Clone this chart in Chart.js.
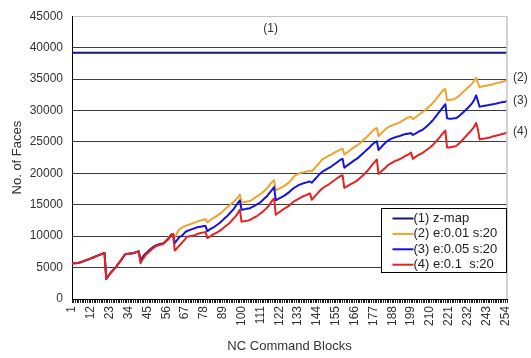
<!DOCTYPE html>
<html>
<head>
<meta charset="utf-8">
<title>No. of Faces per NC Command Block</title>
<script src="https://cdn.jsdelivr.net/npm/chart.js@4.4.1/dist/chart.umd.min.js"></script>
<style>
  html, body { margin: 0; padding: 0; background: #ffffff; }
  #wrap { position: relative; width: 531px; height: 358px; }
</style>
</head>
<body>
<div id="wrap"><canvas id="chart" width="531" height="358"></canvas></div>
<script>
// NC command blocks 1..255 on the x axis
const blockCount = 255;
const blocks = Array.from({ length: blockCount }, (_, i) => String(i + 1));

// Labels printed under the x axis (every 11th block)
const tickLabels = ['1', '12', '23', '34', '45', '56', '67', '78', '89', '100', '111', '122',
  '133', '144', '155', '166', '177', '188', '199', '210', '221', '232', '243', '254'];

// Y axis range
const yMin = 0;
const yMax = 45000;
const yStep = 5000;

// Series names (legend) and end tags
const seriesNames = ['(1) z-map', '(2) e:0.01 s:20', '(3) e:0.05 s:20', '(4) e:0.1  s:20'];
const endTags = ['(1)', '(2)', '(3)', '(4)'];

// (1) z-map: constant face count
const zmapFaces = 39200;

// (2) e:0.01 s:20
const facesE001 = [
  5700, 5700, 5700, 5720, 5750, 5850, 5950, 6050, 6150, 6250,
  6350, 6460, 6570, 6680, 6790, 6900, 7010, 7120, 7230, 7300,
  3200, 3600, 3950, 4300, 4600, 4900, 5200, 5600, 5950, 6300,
  6750, 7100, 7150, 7200, 7250, 7250, 7300, 7400, 7500, 7600,
  6200, 6700, 7050, 7300, 7550, 7800, 8050, 8250, 8450, 8600,
  8700, 8800, 8850, 8900, 9100, 9350, 9600, 9950, 10300, 10400,
  9800, 10300, 10800, 11200, 11300, 11500, 11600, 11700, 11800, 11900,
  12000, 12100, 12200, 12300, 12400, 12500, 12550, 12650, 12700, 12200,
  12400, 12600, 12800, 12950, 13100, 13300, 13500, 13700, 13950, 14200,
  14450, 14700, 14900, 15150, 15400, 15600, 15900, 16250, 16600, 15400,
  15400, 15450, 15500, 15550, 15600, 15750, 15950, 16150, 16350, 16500,
  16700, 16900, 17150, 17400, 17650, 18000, 18350, 18650, 18900, 17300,
  17400, 17550, 17700, 17850, 18000, 18200, 18400, 18600, 18950, 19300,
  19600, 19750, 19900, 20000, 20100, 20150, 20200, 20300, 20350, 20400,
  20300, 20600, 20900, 21200, 21500, 21850, 22200, 22350, 22500, 22650,
  22800, 22950, 23100, 23250, 23400, 23550, 23700, 23800, 23900, 23000,
  23200, 23400, 23600, 23800, 24000, 24200, 24350, 24550, 24750, 25000,
  25250, 25500, 25750, 26000, 26300, 26600, 26900, 27100, 27200, 25900,
  26200, 26500, 26750, 27000, 27200, 27400, 27550, 27650, 27750, 27850,
  27950, 28050, 28200, 28400, 28550, 28700, 28850, 28950, 29000, 28600,
  28800, 29000, 29200, 29400, 29600, 29800, 30000, 30250, 30500, 30750,
  31000, 31300, 31600, 31950, 32300, 32650, 33000, 33300, 33400, 31600,
  31650, 31700, 31750, 31800, 31900, 32100, 32350, 32600, 32850, 33100,
  33350, 33600, 33850, 34100, 34400, 34800, 35200, 34400, 33700, 33800,
  33850, 33900, 33950, 34000, 34050, 34100, 34200, 34300, 34350, 34400,
  34450, 34550, 34600, 34700, 34800
];

// (3) e:0.05 s:20
const facesE005 = [
  5700, 5700, 5700, 5720, 5750, 5850, 5950, 6050, 6150, 6250,
  6350, 6460, 6570, 6680, 6790, 6900, 7010, 7120, 7230, 7300,
  3200, 3600, 3950, 4300, 4600, 4900, 5200, 5600, 5950, 6300,
  6750, 7100, 7150, 7200, 7250, 7250, 7300, 7400, 7500, 7600,
  6000, 6500, 6900, 7200, 7450, 7700, 7950, 8150, 8350, 8500,
  8600, 8700, 8750, 8800, 9000, 9250, 9500, 9850, 10250, 10300,
  8900, 9250, 9600, 9950, 10000, 10300, 10600, 10800, 10900, 11000,
  11100, 11200, 11300, 11400, 11450, 11500, 11550, 11600, 11600, 10800,
  11000, 11150, 11300, 11450, 11650, 11850, 12050, 12300, 12550, 12800,
  13050, 13300, 13600, 13900, 14200, 14550, 14950, 15350, 15700, 14200,
  14250, 14300, 14350, 14400, 14450, 14600, 14750, 14900, 15050, 15200,
  15400, 15650, 15900, 16150, 16400, 16750, 17100, 17450, 17800, 15700,
  15850, 16000, 16150, 16300, 16450, 16650, 16850, 17050, 17300, 17550,
  17750, 17900, 18080, 18200, 18300, 18400, 18500, 18550, 18650, 18700,
  18500, 18800, 19100, 19400, 19700, 20000, 20200, 20400, 20550, 20700,
  20850, 21000, 21200, 21400, 21600, 21800, 22000, 22200, 22300, 20900,
  21100, 21300, 21500, 21700, 21900, 22100, 22250, 22450, 22700, 22950,
  23200, 23450, 23700, 23950, 24200, 24500, 24750, 24950, 25100, 23700,
  24000, 24300, 24600, 24850, 25100, 25300, 25450, 25550, 25650, 25750,
  25850, 25900, 26000, 26100, 26200, 26250, 26300, 26350, 26400, 26100,
  26250, 26400, 26550, 26700, 26850, 27000, 27200, 27450, 27700, 27950,
  28250, 28550, 28900, 29250, 29600, 29950, 30300, 30650, 31000, 28750,
  28700, 28700, 28700, 28750, 28750, 28900, 29100, 29350, 29600, 29850,
  30100, 30350, 30650, 30950, 31300, 31800, 32400, 31500, 30600, 30650,
  30700, 30750, 30800, 30850, 30900, 30950, 31000, 31050, 31100, 31200,
  31250, 31300, 31350, 31400, 31500
];

// (4) e:0.1 s:20
const facesE01 = [
  5700, 5700, 5700, 5720, 5750, 5850, 5950, 6050, 6150, 6250,
  6350, 6460, 6570, 6680, 6790, 6900, 7010, 7120, 7230, 7300,
  3200, 3600, 3950, 4300, 4600, 4900, 5200, 5600, 5950, 6300,
  6750, 7100, 7150, 7200, 7250, 7250, 7300, 7400, 7500, 7600,
  5700, 6200, 6600, 7000, 7250, 7500, 7750, 8000, 8200, 8400,
  8500, 8600, 8650, 8700, 8950, 9200, 9450, 9800, 10200, 10300,
  7700, 8000, 8300, 8600, 8900, 9200, 9500, 9900, 9950, 10000,
  10050, 10100, 10200, 10300, 10400, 10500, 10550, 10600, 10650, 9700,
  9850, 10000, 10200, 10350, 10500, 10650, 10800, 11000, 11200, 11450,
  11650, 11850, 12100, 12400, 12700, 13000, 13300, 13750, 14200, 12300,
  12350, 12400, 12450, 12500, 12600, 12750, 12900, 13050, 13200, 13400,
  13600, 13800, 14050, 14300, 14550, 14900, 15300, 15700, 16000, 13400,
  13600, 13800, 14000, 14200, 14400, 14550, 14700, 14900, 15150, 15400,
  15600, 15750, 15900, 16050, 16200, 16350, 16450, 16550, 16700, 16800,
  15800, 16100, 16400, 16700, 17000, 17300, 17550, 17750, 17950, 18100,
  18250, 18450, 18650, 18850, 19050, 19250, 19450, 19600, 19700, 17700,
  17850, 18000, 18150, 18300, 18450, 18600, 18750, 18950, 19200, 19450,
  19700, 19950, 20250, 20550, 20900, 21250, 21600, 21900, 22200, 19900,
  20150, 20400, 20650, 20900, 21150, 21400, 21550, 21700, 21850, 22000,
  22100, 22200, 22350, 22500, 22650, 22800, 22950, 23100, 23300, 22300,
  22500, 22700, 22850, 23000, 23150, 23300, 23500, 23700, 23900, 24100,
  24350, 24600, 24900, 25200, 25500, 25850, 26200, 26500, 26800, 24100,
  24100, 24150, 24200, 24250, 24300, 24500, 24750, 25000, 25300, 25600,
  25900, 26200, 26500, 26800, 27100, 27500, 28000, 27000, 25400, 25450,
  25500, 25550, 25600, 25650, 25700, 25800, 25900, 25950, 26000, 26100,
  26150, 26250, 26300, 26400, 26500
];

const zmapSeries = blocks.map(() => zmapFaces);

const textFont = '"Liberation Sans", Arial, "DejaVu Sans", sans-serif';
const textColor = '#333333';

// Legend box drawn inside the lower-right of the plot, plus the (n) tags
const annotations = {
  id: 'annotations',
  afterDatasetsDraw(chart) {
    const { ctx, chartArea, scales } = chart;
    const xs = scales.x, ys = scales.y;
    ctx.save();

    // right frame of the plot area
    ctx.strokeStyle = '#c4c4c4';
    ctx.lineWidth = 1.5;
    ctx.beginPath();
    ctx.moveTo(chartArea.right, chartArea.top);
    ctx.lineTo(chartArea.right, chartArea.bottom);
    ctx.stroke();

    ctx.font = '12px ' + textFont;
    ctx.fillStyle = textColor;
    ctx.textBaseline = 'middle';

    // "(1)" above the z-map line
    ctx.textAlign = 'center';
    ctx.fillText(endTags[0], xs.getPixelForValue(116), ys.getPixelForValue(zmapFaces) - 24);

    // "(2)".."(4)" to the right of each series' last point
    ctx.textAlign = 'left';
    const last = blockCount - 1;
    const ends = [facesE001[last], facesE005[last], facesE01[last]];
    const lift = [-3, 0, -1];
    ends.forEach((v, k) => {
      ctx.fillText(endTags[k + 1], chartArea.right + 6, ys.getPixelForValue(v) + lift[k]);
    });

    // legend
    const bw = 125, bh = 64;
    const bx = Math.round(chartArea.right - bw - 1) + 0.5;
    const by = Math.round(chartArea.top + 192) + 0.5;
    ctx.fillStyle = '#ffffff';
    ctx.fillRect(bx, by, bw, bh);
    ctx.strokeStyle = '#000000';
    ctx.lineWidth = 1;
    ctx.strokeRect(bx, by, bw, bh);

    ctx.font = '13px ' + textFont;
    chart.data.datasets.forEach((ds, k) => {
      const cy = by + 10 + k * 15.4;
      ctx.strokeStyle = ds.borderColor;
      ctx.lineWidth = 2;
      ctx.beginPath();
      ctx.moveTo(bx + 11, cy);
      ctx.lineTo(bx + 32, cy);
      ctx.stroke();
      ctx.fillStyle = '#222222';
      ctx.textAlign = 'left';
      ctx.fillText(ds.label, bx + 32, cy);
    });
    ctx.restore();
  }
};

const lineStyle = { pointRadius: 0, borderWidth: 2, tension: 0, fill: false, borderJoinStyle: 'round' };

new Chart(document.getElementById('chart'), {
  type: 'line',
  data: {
    labels: blocks,
    datasets: [
      { ...lineStyle, label: seriesNames[0], data: zmapSeries, borderColor: '#14147c', order: 3 },
      { ...lineStyle, label: seriesNames[1], data: facesE001, borderColor: '#f0a22e', order: 2 },
      { ...lineStyle, label: seriesNames[2], data: facesE005, borderColor: '#1414dc', order: 1 },
      { ...lineStyle, label: seriesNames[3], data: facesE01, borderColor: '#e42222', order: 0 }
    ]
  },
  options: {
    responsive: false,
    animation: false,
    events: [],
    layout: { padding: { left: 0, right: 24, top: 11, bottom: 0 } },
    plugins: { legend: { display: false }, tooltip: { enabled: false } },
    scales: {
      x: {
        type: 'category',
        offset: false,
        afterFit(scale) { scale.height = 59; },
        border: { display: true, color: '#000000', width: 1 },
        grid: {
          display: true,
          drawOnChartArea: false,
          drawTicks: true,
          tickLength: 4,
          color: '#222222',
          lineWidth: 1
        },
        ticks: {
          autoSkip: false,
          minRotation: 90,
          maxRotation: 90,
          padding: 3,
          color: textColor,
          font: { family: textFont, size: 12 },
          callback(value, index) {
            const name = blocks[index];
            return tickLabels.includes(name) ? name : '';
          }
        },
        title: {
          display: true,
          text: 'NC Command Blocks',
          color: textColor,
          font: { family: textFont, size: 13 },
          padding: { top: 0, bottom: 4 }
        }
      },
      y: {
        min: yMin,
        max: yMax,
        afterFit(scale) { scale.width = 72; },
        border: { display: true, color: '#000000', width: 1 },
        grid: {
          drawTicks: false,
          tickLength: 0,
          lineWidth: 1,
          color: (c) => (c.tick && c.tick.value === yMax ? '#c4c4c4' : '#3c3c3c')
        },
        ticks: {
          stepSize: yStep,
          padding: 9,
          color: textColor,
          font: { family: textFont, size: 12 },
          callback: (value) => String(value)
        },
        title: {
          display: true,
          text: 'No. of Faces',
          color: textColor,
          font: { family: textFont, size: 13 },
          padding: { top: 10, bottom: 0 }
        }
      }
    }
  },
  plugins: [annotations]
});
</script>
</body>
</html>
